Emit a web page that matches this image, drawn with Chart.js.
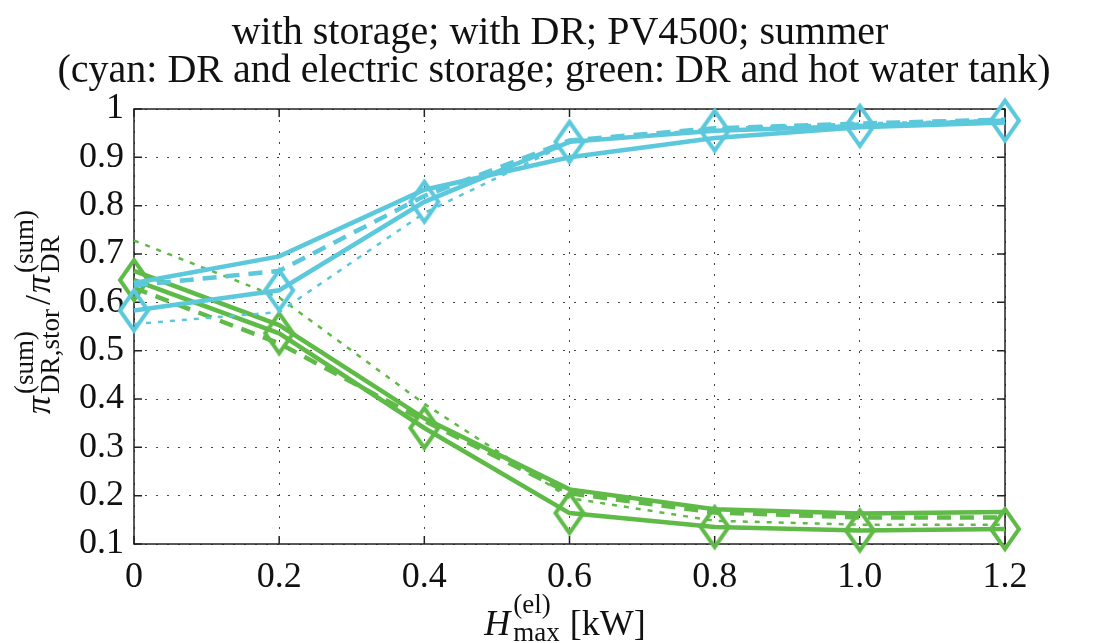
<!DOCTYPE html>
<html lang="en">
<head>
    <meta charset="UTF-8">
    <title>with storage; with DR; PV4500; summer</title>
    <style>
        html, body { margin: 0; padding: 0; background: #fff; }
        #wrap { width: 1103px; height: 643px; }
    </style>
</head>
<body>
<div id="wrap"><canvas id="chart" width="1103" height="643"></canvas></div>

<script src="https://cdn.jsdelivr.net/npm/chart.js"></script>
<script>
    // data
    const xValues = [0, 0.2, 0.4, 0.6, 0.8, 1.0, 1.2];
    const xTickLabels = ['0', '0.2', '0.4', '0.6', '0.8', '1.0', '1.2'];
    const yTickValues = [0.1, 0.2, 0.3, 0.4, 0.5, 0.6, 0.7, 0.8, 0.9, 1];
    const yTickLabels = ['0.1', '0.2', '0.3', '0.4', '0.5', '0.6', '0.7', '0.8', '0.9', '1'];

    // cyan: DR and electric storage
    const cyanDiamond = [0.583, 0.625, 0.808, 0.932, 0.955, 0.965, 0.976];
    const cyanSolid   = [0.640, 0.695, 0.833, 0.900, 0.940, 0.962, 0.972];
    const cyanDashed  = [0.635, 0.665, 0.820, 0.935, 0.960, 0.970, 0.978];
    const cyanDotted  = [0.555, 0.580, 0.785, 0.930, 0.960, 0.970, 0.977];

    // green: DR and hot water tank
    const greenDiamond = [0.646, 0.536, 0.340, 0.164, 0.135, 0.128, 0.131];
    const greenSolid   = [0.665, 0.553, 0.360, 0.213, 0.172, 0.163, 0.166];
    const greenDashed  = [0.630, 0.515, 0.355, 0.205, 0.165, 0.155, 0.155];
    const greenDotted  = [0.728, 0.610, 0.390, 0.195, 0.148, 0.140, 0.140];

    const CYAN = '#5bc8dc';
    const GREEN = '#5fba47';
    const SERIF = '"Liberation Serif", "DejaVu Serif", serif';

    function diamond(color) {
        const c = document.createElement('canvas');
        c.width = 44;
        c.height = 56;
        const g = c.getContext('2d');
        g.strokeStyle = color;
        g.lineWidth = 4;
        g.lineJoin = 'miter';
        g.beginPath();
        g.moveTo(22, 8);
        g.lineTo(36, 28);
        g.lineTo(22, 48);
        g.lineTo(8, 28);
        g.closePath();
        g.stroke();
        return c;
    }

    function points(arr) {
        return xValues.map((x, i) => ({ x: x, y: arr[i] }));
    }

    function series(arr, color, kind) {
        const ds = {
            data: points(arr),
            borderColor: color,
            backgroundColor: color,
            borderWidth: 4.5,
            tension: 0,
            fill: false,
            clip: false,
            pointRadius: 0,
            pointHoverRadius: 0
        };
        if (kind === 'diamond') {
            ds.pointStyle = diamond(color);
            ds.pointRadius = 15;
        } else if (kind === 'dashed') {
            ds.borderDash = [14, 9];
        } else if (kind === 'dotted') {
            ds.borderWidth = 2.5;
            ds.borderDash = [5, 7];
        }
        return ds;
    }

    // frame, inward ticks, titles and axis labels
    const decorations = {
        id: 'decorations',
        beforeDatasetsDraw(chart) {
            const ctx = chart.ctx;
            const a = chart.chartArea;
            const xs = chart.scales.x, ys = chart.scales.y;
            ctx.save();
            ctx.strokeStyle = '#222';
            ctx.lineWidth = 1.5;
            ctx.setLineDash([]);
            ctx.strokeRect(a.left, a.top, a.right - a.left, a.bottom - a.top);
            ctx.beginPath();
            xValues.forEach(v => {
                const px = xs.getPixelForValue(v);
                ctx.moveTo(px, a.bottom); ctx.lineTo(px, a.bottom - 8);
                ctx.moveTo(px, a.top); ctx.lineTo(px, a.top + 8);
            });
            yTickValues.forEach(v => {
                const py = ys.getPixelForValue(v);
                ctx.moveTo(a.left, py); ctx.lineTo(a.left + 8, py);
                ctx.moveTo(a.right, py); ctx.lineTo(a.right - 8, py);
            });
            ctx.stroke();
            ctx.restore();
        },
        afterDraw(chart) {
            const ctx = chart.ctx;
            ctx.save();
            // title
            ctx.fillStyle = '#111';
            ctx.textAlign = 'center';
            ctx.textBaseline = 'alphabetic';
            ctx.font = '40px ' + SERIF;
            ctx.fillText('with storage; with DR; PV4500; summer', 560, 44);
            ctx.fillText('(cyan: DR and electric storage; green: DR and hot water tank)', 554, 82);

            const mainFont = '36px ' + SERIF;
            const italFont = 'italic 36px ' + SERIF;
            const scriptFont = '27px ' + SERIF;
            ctx.textAlign = 'left';

            // y label: pi^(sum)_{DR,stor} / pi^(sum)_{DR}
            ctx.save();
            ctx.translate(50, 310);
            ctx.rotate(-Math.PI / 2);
            const parts = [
                { t: '\u03c0', f: italFont, sup: '(sum)', sub: 'DR,stor' },
                { t: '/', f: mainFont },
                { t: '\u03c0', f: italFont, sup: '(sum)', sub: 'DR' }
            ];
            let total = 0;
            parts.forEach(p => {
                ctx.font = p.f;
                p.w = ctx.measureText(p.t).width + 2;
                p.sw = 0;
                if (p.sup) {
                    ctx.font = scriptFont;
                    p.sw = Math.max(ctx.measureText(p.sup).width, ctx.measureText(p.sub).width) + 4;
                }
                total += p.w + p.sw;
            });
            let cx = -total / 2;
            parts.forEach(p => {
                ctx.font = p.f;
                ctx.fillText(p.t, cx, 0);
                cx += p.w;
                if (p.sup) {
                    ctx.font = scriptFont;
                    ctx.fillText(p.sup, cx, -17);
                    ctx.fillText(p.sub, cx, 9);
                    cx += p.sw;
                }
            });
            ctx.restore();

            // x label: H^(el)_max [kW]
            ctx.font = italFont;
            const wH = ctx.measureText('H').width + 3;
            ctx.font = scriptFont;
            const wS = Math.max(ctx.measureText('(el)').width, ctx.measureText('max').width) + 10;
            ctx.font = mainFont;
            const wK = ctx.measureText('[kW]').width;
            let lx = 565 - (wH + wS + wK) / 2;
            ctx.font = italFont;
            ctx.fillText('H', lx, 635);
            lx += wH;
            ctx.font = scriptFont;
            ctx.fillText('(el)', lx, 613);
            ctx.fillText('max', lx, 641);
            lx += wS;
            ctx.font = mainFont;
            ctx.fillText('[kW]', lx, 635);
            ctx.restore();
        }
    };

    new Chart(document.getElementById('chart'), {
        type: 'line',
        data: {
            datasets: [
                series(cyanDiamond, CYAN, 'diamond'),
                series(cyanSolid, CYAN, 'solid'),
                series(cyanDashed, CYAN, 'dashed'),
                series(cyanDotted, CYAN, 'dotted'),
                series(greenDiamond, GREEN, 'diamond'),
                series(greenSolid, GREEN, 'solid'),
                series(greenDashed, GREEN, 'dashed'),
                series(greenDotted, GREEN, 'dotted')
            ]
        },
        options: {
            responsive: false,
            animation: false,
            events: [],
            layout: { padding: { top: 109, right: 98, left: 0, bottom: 0 } },
            plugins: {
                legend: { display: false },
                tooltip: { enabled: false },
                title: { display: false }
            },
            scales: {
                x: {
                    type: 'linear',
                    min: 0,
                    max: 1.2,
                    afterBuildTicks: s => { s.ticks = xValues.map(v => ({ value: v })); },
                    afterFit: s => { s.height = 99; },
                    grid: { color: '#444', lineWidth: 1, drawTicks: false },
                    border: { display: false, dash: [2, 9] },
                    ticks: {
                        padding: 12,
                        color: '#111',
                        maxRotation: 0,
                        font: { family: SERIF, size: 36 },
                        callback: (v, i) => xTickLabels[i]
                    }
                },
                y: {
                    type: 'linear',
                    min: 0.1,
                    max: 1,
                    afterBuildTicks: s => { s.ticks = yTickValues.map(v => ({ value: v })); },
                    afterFit: s => { s.width = 134; },
                    grid: { color: '#444', lineWidth: 1, drawTicks: false },
                    border: { display: false, dash: [2, 9] },
                    ticks: {
                        padding: 10,
                        color: '#111',
                        font: { family: SERIF, size: 36 },
                        callback: (v, i) => yTickLabels[i]
                    }
                }
            }
        },
        plugins: [decorations]
    });
</script>
</body>
</html>
